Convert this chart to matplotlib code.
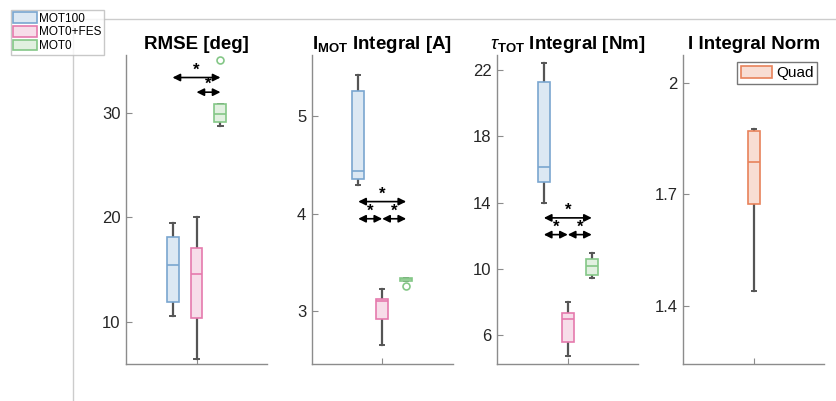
import matplotlib.pyplot as plt
from matplotlib.patches import Patch
from matplotlib.lines import Line2D

plt.rcParams['font.family'] = ['Liberation Sans', 'DejaVu Sans']
plt.rcParams['mathtext.fontset'] = 'custom'
plt.rcParams['mathtext.rm'] = 'Liberation Sans'
plt.rcParams['mathtext.it'] = 'Liberation Sans:italic'
plt.rcParams['mathtext.bf'] = 'Liberation Sans:bold'

groups = ['MOT100', 'MOT0+FES', 'MOT0']
edge = ['#7aa6d0', '#e57aad', '#84c787']
face = ['#dce8f3', '#f7dde9', '#e1f0e0']
quad_edge = '#e8825a'
quad_face = '#f8ddd3'

# RMSE [deg]
rmse_whislo = [10.57, 6.45, 28.75]
rmse_q1 = [11.95, 10.35, 29.07]
rmse_med = [15.45, 14.6, 29.87]
rmse_q3 = [18.1, 17.08, 30.83]
rmse_whishi = [19.44, 20.0, 30.83]
rmse_fliers = [[], [], [35.0]]
rmse_sig = [(0, 2, 33.35), (1, 2, 31.95)]

# I_MOT integral [A]
imot_whislo = [4.295, 2.65, 3.31]
imot_q1 = [4.36, 2.918, 3.31]
imot_med = [4.44, 3.106, 3.33]
imot_q3 = [5.256, 3.13, 3.342]
imot_whishi = [5.42, 3.233, 3.342]
imot_fliers = [[], [], [3.26]]
imot_sig = [(0, 2, 4.126), (0, 1, 3.95), (1, 2, 3.95)]

# tau_TOT integral [Nm]
tau_whislo = [13.96, 4.75, 9.43]
tau_q1 = [15.22, 5.62, 9.64]
tau_med = [16.15, 6.96, 10.2]
tau_q3 = [21.3, 7.36, 10.62]
tau_whishi = [22.4, 8.03, 10.97]
tau_fliers = [[], [], []]
tau_sig = [(0, 2, 13.08), (0, 1, 12.07), (1, 2, 12.07)]

# I integral norm (Quad)
norm_whislo = [1.44]
norm_q1 = [1.674]
norm_med = [1.788]
norm_q3 = [1.871]
norm_whishi = [1.876]
norm_fliers = [[]]

panels = [
    dict(title='RMSE [deg]', lo=rmse_whislo, q1=rmse_q1, med=rmse_med, q3=rmse_q3,
         hi=rmse_whishi, fl=rmse_fliers, sig=rmse_sig, ylim=(6.0, 35.5),
         yticks=[10, 20, 30], ylabels=['10', '20', '30']),
    dict(title=r'$\mathbf{I}_{\mathbf{MOT}}$ Integral [A]', lo=imot_whislo, q1=imot_q1,
         med=imot_med, q3=imot_q3, hi=imot_whishi, fl=imot_fliers, sig=imot_sig,
         ylim=(2.46, 5.63), yticks=[3, 4, 5], ylabels=['3', '4', '5']),
    dict(title=r'$\tau_{\mathbf{TOT}}$ Integral [Nm]', lo=tau_whislo, q1=tau_q1,
         med=tau_med, q3=tau_q3, hi=tau_whishi, fl=tau_fliers, sig=tau_sig,
         ylim=(4.27, 22.9), yticks=[6, 10, 14, 18, 22],
         ylabels=['6', '10', '14', '18', '22']),
    dict(title='I Integral Norm', lo=norm_whislo, q1=norm_q1, med=norm_med, q3=norm_q3,
         hi=norm_whishi, fl=norm_fliers, sig=[], ylim=(1.243, 2.076),
         yticks=[1.4, 1.7, 2.0], ylabels=['1.4', '1.7', '2']),
]

fig = plt.figure(figsize=(8.36, 4.01), dpi=100)
lefts = [126, 311.7, 497.3, 683.3]
W, H = 836, 401
axc = '#8c8c8c'

for k, p in enumerate(panels):
    ax = fig.add_axes([lefts[k] / W, 1 - 364 / H, 141 / W, 309 / H])
    n = len(p['med'])
    if n == 3:
        pos = [0.66, 1.0, 1.34]
        ec, fc = edge, face
    else:
        pos = [1.0]
        ec, fc = [quad_edge], [quad_face]
    stats = []
    for i in range(n):
        stats.append(dict(med=p['med'][i], q1=p['q1'][i], q3=p['q3'][i],
                          whislo=p['lo'][i], whishi=p['hi'][i], fliers=p['fl'][i]))
    bp = ax.bxp(stats, positions=pos, widths=0.17, patch_artist=True,
                showfliers=True, capwidths=0.06,
                whiskerprops=dict(color='#555555', lw=1.6),
                capprops=dict(color='#555555', lw=1.4), manage_ticks=False)
    for i in range(n):
        bp['boxes'][i].set_facecolor(fc[i])
        bp['boxes'][i].set_edgecolor(ec[i])
        bp['boxes'][i].set_linewidth(1.2)
        bp['boxes'][i].set_zorder(3)
        bp['medians'][i].set_color(ec[i])
        bp['medians'][i].set_linewidth(1.2)
        bp['medians'][i].set_zorder(4)
        bp['fliers'][i].set_marker('o')
        bp['fliers'][i].set_markerfacecolor('none')
        bp['fliers'][i].set_markeredgecolor(ec[i])
        bp['fliers'][i].set_markersize(5)
        bp['fliers'][i].set_markeredgewidth(1.2)

    for a, b, y in p['sig']:
        ax.annotate('', xy=(pos[b], y), xytext=(pos[a], y),
                    arrowprops=dict(arrowstyle='<|-|>', color='k', lw=1.2,
                                    shrinkA=0, shrinkB=0, mutation_scale=11))
        ax.annotate('*', xy=((pos[a] + pos[b]) / 2, y), xytext=(0, 5.5),
                    textcoords='offset points', ha='center', va='center',
                    fontsize=12, fontweight='bold')

    ax.set_xlim(0, 2)
    ax.set_ylim(*p['ylim'])
    ax.set_xticks([1])
    ax.set_xticklabels([''])
    ax.set_yticks(p['yticks'])
    ax.set_yticklabels(p['ylabels'])
    for s in ['top', 'right']:
        ax.spines[s].set_visible(False)
    for s in ['left', 'bottom']:
        ax.spines[s].set_color(axc)
        ax.spines[s].set_linewidth(1.0)
    ax.tick_params(direction='in', length=4, color=axc, labelcolor='#262626',
                   labelsize=12, pad=4)
    ax.set_title(p['title'], fontsize=13.5, fontweight='bold', pad=4)

    if n == 1:
        ax.legend(handles=[Patch(facecolor=quad_face, edgecolor=quad_edge, lw=1.2, label='Quad')],
                  loc='upper right', fontsize=11, frameon=True, fancybox=False,
                  edgecolor='#555555', handlelength=2.0, handleheight=0.9,
                  handletextpad=0.3, borderpad=0.25, borderaxespad=0.45)

# outer frame lines
fig.add_artist(Line2D([73 / W, 73 / W, 1.0], [0.0, 1 - 19 / H, 1 - 19 / H],
                      transform=fig.transFigure, color='#cccccc', lw=1.0))

handles = [Patch(facecolor=face[i], edgecolor=edge[i], lw=1.2, label=groups[i]) for i in range(3)]
leg = fig.legend(handles=handles, loc='upper left', bbox_to_anchor=(11 / W, 1 - 10 / H),
                 fontsize=8.5, frameon=True, fancybox=False, edgecolor='#bbbbbb',
                 handlelength=2.0, handleheight=1.0, handletextpad=0.2,
                 labelspacing=0.12, borderpad=0.2, borderaxespad=0.0)
leg.get_frame().set_linewidth(1.0)

fig.savefig('out.png', dpi=100)
